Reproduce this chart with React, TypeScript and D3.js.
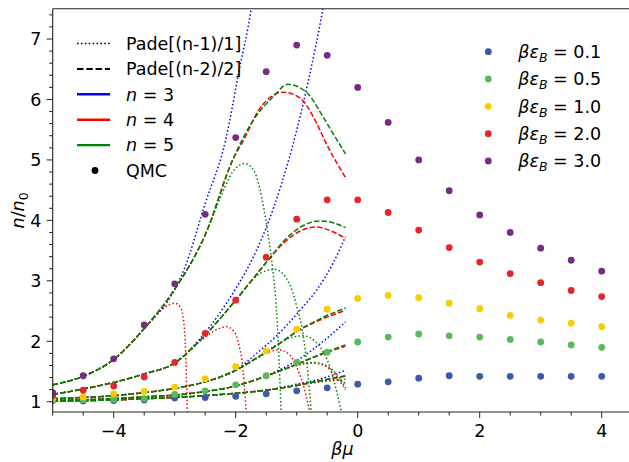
import React from 'react';
import * as d3 from 'd3';

const W = 629;
const H = 462;

// ---------- QMC data ----------
const betaMu = [-5, -4.5, -4, -3.5, -3, -2.5, -2, -1.5, -1, -0.5, 0, 0.5, 1, 1.5, 2, 2.5, 3, 3.5, 4];
const qmcE01 = [1.02, 1.01, 1.02, 1.03, 1.06, 1.07, 1.09, 1.13, 1.18, 1.23, 1.29, 1.33, 1.39, 1.43, 1.42, 1.42, 1.42, 1.42, 1.42];
const qmcE05 = [1.02, 1.03, 1.04, 1.05, 1.12, 1.18, 1.28, 1.43, 1.65, 1.82, 1.99, 2.07, 2.12, 2.09, 2.07, 2.03, 1.99, 1.94, 1.90];
const qmcE10 = [1.06, 1.08, 1.13, 1.17, 1.24, 1.38, 1.58, 1.84, 2.20, 2.53, 2.71, 2.76, 2.72, 2.63, 2.54, 2.43, 2.35, 2.30, 2.24];
const qmcE20 = [1.10, 1.19, 1.26, 1.41, 1.65, 2.13, 2.68, 3.39, 4.02, 4.34, 4.34, 4.13, 3.84, 3.55, 3.31, 3.12, 2.97, 2.84, 2.74];
const qmcE30 = [1.15, 1.43, 1.71, 2.27, 2.95, 4.10, 5.37, 6.46, 6.90, 6.73, 6.20, 5.62, 5.00, 4.49, 4.09, 3.80, 3.54, 3.34, 3.16];

const epsLabels = ['0.1', '0.5', '1.0', '2.0', '3.0'];
const epsColors = ['#3d5aa8', '#5cb85c', '#f7cd00', '#e4262b', '#772c83'];

// ---------- Pade curves ----------
// dashed Pade[(n-2)/2], n = 5 (base curves)
const dash5E01 = [[-5, 1.01], [-4, 1.03], [-3.5, 1.05], [-3, 1.07], [-2.5, 1.1], [-2, 1.14], [-1.68, 1.17], [-1.3, 1.22], [-1.0, 1.27], [-0.6, 1.35], [-0.2, 1.43]];
const dash5E05 = [[-5, 1.02], [-4, 1.05], [-3.5, 1.08], [-3, 1.11], [-2.5, 1.17], [-2, 1.26], [-1.68, 1.36], [-1.3, 1.5], [-1.0, 1.62], [-0.6, 1.79], [-0.2, 1.94]];
const dash5E10 = [[-5, 1.05], [-4.5, 1.07], [-4, 1.1], [-3.5, 1.15], [-3, 1.22], [-2.5, 1.33], [-2, 1.52], [-1.68, 1.71], [-1.3, 1.95], [-1.0, 2.16], [-0.6, 2.38], [-0.2, 2.55]];
const dash5E20 = [[-5, 1.12], [-4.5, 1.21], [-4, 1.32], [-3.5, 1.46], [-3, 1.64], [-2.58, 2.02], [-2, 2.68], [-1.47, 3.34], [-1.22, 3.65], [-0.95, 3.88], [-0.62, 3.99], [-0.4, 3.96], [-0.2, 3.88]];
const dash5E30 = [[-5, 1.28], [-4.5, 1.42], [-4, 1.70], [-3.5, 2.21], [-3, 2.86], [-2.5, 3.76], [-2.04, 5.02], [-1.71, 5.66], [-1.38, 6.05], [-1.15, 6.25], [-0.84, 6.12], [-0.56, 5.7], [-0.34, 5.33], [-0.2, 5.1]];

// dashed n = 4 : where they leave the n = 5 curve
const dash4E01 = [[-0.6, 1.35], [-0.2, 1.42]];
const dash4E05 = [[-0.6, 1.78], [-0.2, 1.92]];
const dash4E10 = [[-0.6, 2.36], [-0.2, 2.51]];
const dash4E20 = [[-1.22, 3.62], [-0.95, 3.82], [-0.7, 3.89], [-0.45, 3.83], [-0.2, 3.70]];
const dash4E30 = [[-1.88, 5.31], [-1.6, 5.86], [-1.22, 6.12], [-0.94, 6.02], [-0.67, 5.6], [-0.54, 5.32], [-0.2, 4.71]];

// dotted Pade[(n-1)/1], n = 3
const dot3E01 = [[-1.0, 1.29], [-0.6, 1.38], [-0.2, 1.52]];
const dot3E05 = [[-1.3, 1.52], [-1.0, 1.68], [-0.6, 1.97], [-0.2, 2.32]];
const dot3E10 = [[-1.68, 1.78], [-1.3, 2.12], [-0.94, 2.52], [-0.67, 2.85], [-0.4, 3.3], [-0.2, 3.73]];
const dot3E20 = [[-2.58, 2.05], [-2, 2.87], [-1.82, 3.18], [-1.5, 3.88], [-1.25, 4.6], [-1.0, 5.49], [-0.8, 6.35], [-0.57, 7.5], [-0.5, 7.9]];
const dot3E30 = [[-2.85, 3.18], [-2.5, 4.28], [-2.16, 5.35], [-1.95, 6.45], [-1.74, 7.55], [-1.68, 8.0]];

// dotted n = 4
const dot4E01 = [[-1.0, 1.27], [-0.6, 1.33], [-0.2, 1.37]];
const dot4E05 = [[-1.3, 1.5], [-1.0, 1.6], [-0.75, 1.64], [-0.55, 1.6], [-0.38, 1.45], [-0.2, 1.2]];
const dot4E10 = [[-1.7, 1.69], [-1.5, 1.8], [-1.3, 1.86], [-1.12, 1.78], [-0.97, 1.5], [-0.87, 1.2], [-0.76, 0.7]];
const dot4E20 = [[-2.75, 1.85], [-2.5, 2.07], [-2.3, 2.2], [-2.15, 2.24], [-2.02, 2.15], [-1.95, 1.95], [-1.88, 1.52], [-1.82, 0.7]];
const dot4E30 = [[-3.3, 2.43], [-3.15, 2.57], [-3.0, 2.63], [-2.9, 2.55], [-2.85, 2.3], [-2.82, 1.8], [-2.79, 0.7]];

// dotted n = 5
const dot5E01 = [[-1.0, 1.27], [-0.6, 1.34], [-0.35, 1.36], [-0.2, 1.3]];
const dot5E05 = [[-1.3, 1.5], [-1.0, 1.61], [-0.72, 1.65], [-0.5, 1.59], [-0.35, 1.46], [-0.2, 1.23]];
const dot5E10 = [[-1.6, 1.76], [-1.3, 1.96], [-1.1, 2.06], [-0.89, 2.09], [-0.7, 2.0], [-0.55, 1.8], [-0.45, 1.56], [-0.34, 1.15], [-0.24, 0.7]];
const dot5E20 = [[-1.77, 2.97], [-1.6, 3.12], [-1.36, 3.19], [-1.11, 2.93], [-0.99, 2.54], [-0.91, 2.2], [-0.83, 1.6], [-0.75, 0.7]];
const dot5E30 = [[-2.25, 4.38], [-2.05, 4.8], [-1.85, 4.94], [-1.7, 4.82], [-1.6, 4.5], [-1.48, 3.84], [-1.4, 3.25], [-1.33, 2.5], [-1.25, 0.7]];

const xTicks = [-4, -2, 0, 2, 4];
const yTicks = [1, 2, 3, 4, 5, 6, 7];

const qmcAll = [qmcE01, qmcE05, qmcE10, qmcE20, qmcE30];
const dash5All = [dash5E01, dash5E05, dash5E10, dash5E20, dash5E30];
const dash4All = [dash4E01, dash4E05, dash4E10, dash4E20, dash4E30];
const dot3All = [dot3E01, dot3E05, dot3E10, dot3E20, dot3E30];
const dot4All = [dot4E01, dot4E05, dot4E10, dot4E20, dot4E30];
const dot5All = [dot5E01, dot5E05, dot5E10, dot5E20, dot5E30];

// joins the shared part of a base curve with the branch that leaves it
function branch(base: number[][], tail: number[][]) {
  const x0 = tail[0][0];
  return base.filter((p) => p[0] < x0 - 0.05).concat(tail);
}

const FONT = 'DejaVu Sans, Liberation Sans, sans-serif';
const FS = 17.5;
const SUB = 12.5;

export default function App() {
  const left = 52.7;
  const top = 8.8;
  const bottom = 412;
  const x = d3.scaleLinear().domain([-5, 4.5]).range([left, left + 9.5 * 61]);
  const y = d3.scaleLinear().domain([0.83, 7.5]).range([bottom, top]);
  const right = x(4.5);

  const line = d3
    .line<number[]>()
    .x((d) => x(d[0]))
    .y((d) => y(d[1]))
    .curve(d3.curveMonotoneX);

  const DOT = '1.5,2.3';
  const DASH = '5.4,2.2';
  const LW = 1.5;

  const xMinor = d3.range(-5, 4.51, 0.5).filter((v) => !xTicks.some((t) => Math.abs(t - v) < 1e-6));
  const yMinor = d3.range(1, 7.5, 0.2).filter((v) => !yTicks.some((t) => Math.abs(t - v) < 1e-6));

  const legRows = [43.5, 68.9, 94.3, 119.7, 145.1, 170.5];
  const rLegRows = [51.7, 79, 106.3, 133.7, 161];

  return (
    <svg
      width={W}
      height={H}
      style={{ position: 'absolute', left: 0, top: 0, background: '#fff' }}
      fontFamily={FONT}
    >
      <defs>
        <clipPath id="plotclip">
          <rect x={left} y={top} width={right - left} height={bottom - top} />
        </clipPath>
      </defs>
      <rect x={0} y={0} width={W} height={H} fill="#fff" />

      <g clipPath="url(#plotclip)" fill="none" strokeWidth={LW}>
        {/* n = 3 */}
        {dot3All.map((t, i) => (
          <path key={'d3' + i} d={line(branch(dash5All[i], t)) || ''} stroke="#0000ff" strokeDasharray={DOT} />
        ))}
        {/* n = 4 */}
        {dot4All.map((t, i) => (
          <path key={'d4' + i} d={line(branch(dash5All[i], t)) || ''} stroke="#ff0000" strokeDasharray={DOT} />
        ))}
        {dash4All.map((t, i) => (
          <path key={'s4' + i} d={line(branch(dash5All[i], t)) || ''} stroke="#ff0000" strokeDasharray={DASH} />
        ))}
        {/* n = 5 */}
        {dot5All.map((t, i) => (
          <path key={'d5' + i} d={line(branch(dash5All[i], t)) || ''} stroke="#008000" strokeDasharray={DOT} />
        ))}
        {dash5All.map((c, i) => (
          <path key={'s5' + i} d={line(c) || ''} stroke="#008000" strokeDasharray={DASH} />
        ))}
        {/* QMC */}
        {qmcAll.map((vals, i) =>
          vals.map((v, j) => (
            <circle key={'q' + i + '-' + j} cx={x(betaMu[j])} cy={y(v)} r={3.4} fill={epsColors[i]} stroke="none" />
          ))
        )}
      </g>

      {/* spines */}
      <g stroke="#222" strokeWidth={1.1} fill="none">
        <line x1={left} y1={top} x2={left} y2={bottom} />
        <line x1={left} y1={bottom} x2={right} y2={bottom} />
        <line x1={left} y1={top} x2={right} y2={top} />
        <line x1={right} y1={top} x2={right} y2={bottom} />
      </g>

      {/* ticks */}
      <g stroke="#222" strokeWidth={1}>
        {xTicks.map((t) => (
          <line key={'xt' + t} x1={x(t)} x2={x(t)} y1={bottom} y2={bottom + 6} />
        ))}
        {xMinor.map((t) => (
          <line key={'xm' + t} x1={x(t)} x2={x(t)} y1={bottom} y2={bottom + 3.5} />
        ))}
        {yTicks.map((t) => (
          <line key={'yt' + t} x1={left - 6} x2={left} y1={y(t)} y2={y(t)} />
        ))}
        {yMinor.map((t) => (
          <line key={'ym' + t} x1={left - 3.5} x2={left} y1={y(t)} y2={y(t)} />
        ))}
      </g>
      <g fontSize={FS} fill="#000">
        {xTicks.map((t) => (
          <text key={'xl' + t} x={x(t)} y={436.5} textAnchor="middle">
            {t < 0 ? '\u2212' + Math.abs(t) : String(t)}
          </text>
        ))}
        {yTicks.map((t) => (
          <text key={'yl' + t} x={41.5} y={y(t)} dy="0.36em" textAnchor="end">
            {String(t)}
          </text>
        ))}
      </g>

      {/* axis labels */}
      <text x={(left + right) / 2} y={455} textAnchor="middle" fontSize={FS} fontStyle="italic">
        βμ
      </text>
      <text transform={`translate(24,${(top + bottom) / 2}) rotate(-90)`} textAnchor="middle" fontSize={FS}>
        <tspan fontStyle="italic">n</tspan>
        <tspan>/</tspan>
        <tspan fontStyle="italic">n</tspan>
        <tspan fontSize={SUB} dy={4}>0</tspan>
      </text>

      {/* left legend */}
      <g fontSize={FS}>
        <line x1={77} x2={110} y1={legRows[0]} y2={legRows[0]} stroke="#000" strokeWidth={1.7} strokeDasharray="1.6,2.3" />
        <text x={126} y={legRows[0]} dy="0.36em">Pade[(n-1)/1]</text>
        <line x1={77} x2={110} y1={legRows[1]} y2={legRows[1]} stroke="#000" strokeWidth={2} strokeDasharray="6.5,2.8" />
        <text x={126} y={legRows[1]} dy="0.36em">Pade[(n-2)/2]</text>
        {['#0000ff', '#ff0000', '#008000'].map((c, i) => (
          <g key={'lg' + i}>
            <line x1={77} x2={110} y1={legRows[2 + i]} y2={legRows[2 + i]} stroke={c} strokeWidth={2.4} />
            <text x={126} y={legRows[2 + i]} dy="0.36em">
              <tspan fontStyle="italic">n</tspan>
              <tspan>{' = ' + (3 + i)}</tspan>
            </text>
          </g>
        ))}
        <circle cx={95} cy={legRows[5]} r={3.4} fill="#000" />
        <text x={126} y={legRows[5]} dy="0.36em">QMC</text>
      </g>

      {/* right legend */}
      <g fontSize={FS}>
        {epsLabels.map((lab, i) => (
          <g key={'rl' + i}>
            <circle cx={488.3} cy={rLegRows[i]} r={3.4} fill={epsColors[i]} />
            <text x={518.3} y={rLegRows[i]} dy="0.36em">
              <tspan fontStyle="italic">βε</tspan>
              <tspan fontStyle="italic" fontSize={SUB} dy={4}>B</tspan>
              <tspan dy={-4}>{' = ' + lab}</tspan>
            </text>
          </g>
        ))}
      </g>
    </svg>
  );
}
